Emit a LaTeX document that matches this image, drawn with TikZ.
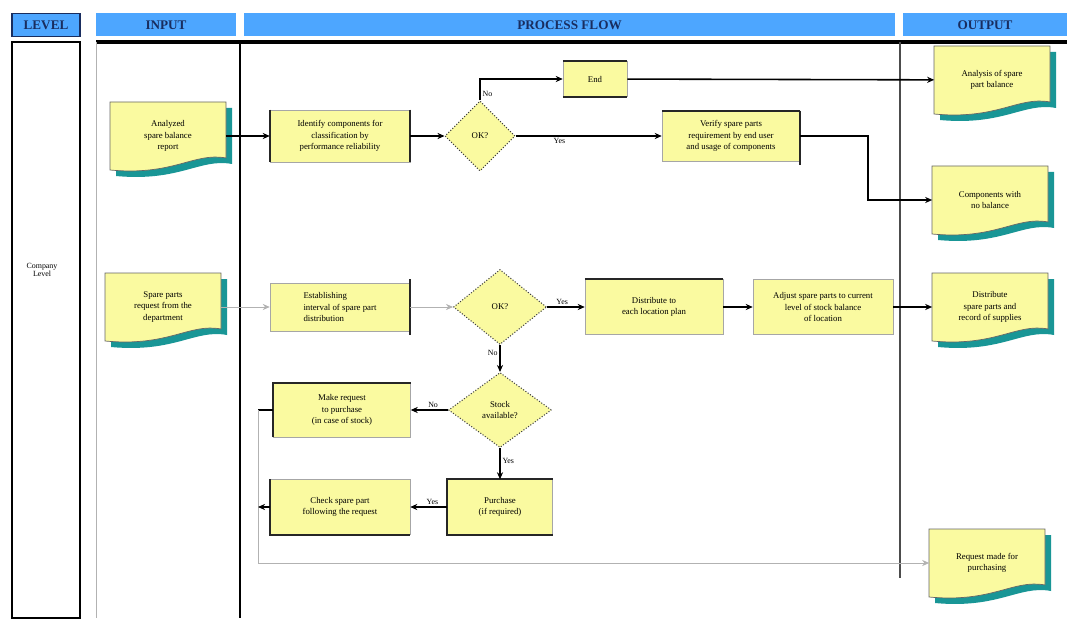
\documentclass[tikz,border=0pt]{standalone}
\usepackage{fontspec}
\setmainfont{Liberation Serif}
\usetikzlibrary{shapes.geometric,arrows.meta,positioning,calc}
\definecolor{headblue}{RGB}{77,166,255}
\definecolor{headnavy}{RGB}{25,45,95}
\definecolor{procyellow}{RGB}{250,250,160}
\definecolor{docshade}{RGB}{25,150,150}

\tikzset{
  proc/.style={rectangle, fill=procyellow, draw=black!35, line width=0.3pt, align=center,
    font=\fontsize{5}{6.5}\selectfont, inner sep=1pt},
  decide/.style={diamond, fill=procyellow, draw=black!75, densely dotted, line width=0.6pt,
    align=center, font=\fontsize{5}{6.5}\selectfont, inner sep=0pt},
  doctext/.style={align=center, font=\fontsize{5}{6.5}\selectfont, minimum width=2.3cm,
    minimum height=1.1cm, inner sep=0pt},
  head/.style={fill=headblue, text=headnavy, font=\fontsize{7.5}{8}\selectfont\bfseries,
    minimum height=0.46cm, inner sep=0pt},
  bar/.style={line width=1.1pt, black!85},
  flow/.style={-{Stealth[length=4pt,width=3.5pt]}, line width=0.9pt},
  faint/.style={line width=0.5pt, black!30},
  lbl/.style={font=\fontsize{4.5}{5}\selectfont, inner sep=1pt}
}

% document shape with shadow: name, centre, text
\newcommand{\flowdoc}[3]{%
  \begin{scope}[shift={(#2)}]
    \fill[docshade] (-52,-28) -- (64,-28) -- (64,28) .. controls (32,22) and (12,46) .. (-52,40) -- cycle;
    \filldraw[fill=procyellow, draw=black!60, line width=0.4pt]
      (-58,-34) -- (58,-34) -- (58,22) .. controls (26,16) and (6,40) .. (-58,34) -- cycle;
  \end{scope}
  \node[doctext] (#1) at (#2) {#3};}

\begin{document}
\begin{tikzpicture}[x=0.02cm, y=-0.02cm]
    \useasboundingbox (0,0) rectangle (1067,618);

    % Headers
    \node[head, minimum width=1.36cm, draw=headnavy, line width=1pt] (hlevel) at (46,25) {LEVEL};
    \node[head, minimum width=2.8cm] (hinput) at (166,25) {INPUT};
    \node[head, minimum width=13.02cm] (hflow) at (569.5,25) {PROCESS FLOW};
    \node[head, minimum width=3.28cm] (hout) at (985,25) {OUTPUT};

    % Columns
    \draw[line width=1.2pt] (12,42) rectangle (80,618);
    \draw[line width=1.8pt] (96,42) -- (1067,42);
    \draw[faint] (96,42) -- (96,618);
    \draw[line width=1pt] (240,42) -- (240,618);
    \draw[line width=1pt, black!70] (900,42) -- (900,578);
    \node[lbl, align=center] (lvl) at (42,270) {Company\\Level};

    % Inputs and outputs
    \flowdoc{in1}{168,136}{Analyzed\\spare balance\\report}
    \flowdoc{in2}{163,307}{Spare parts\\request from the\\department}
    \flowdoc{out1}{992,80}{Analysis of spare\\part balance}
    \flowdoc{out2}{990,200}{Components with\\no balance}
    \flowdoc{out3}{990,307}{Distribute\\spare parts and\\record of supplies}
    \flowdoc{out4}{987,563}{Request made for\\purchasing}

    % Upper flow
    \node[proc, minimum width=2.8cm, minimum height=1.04cm] (p1) at (340,136)
      {Identify components for\\classification by\\performance reliability};
    \node[decide, minimum width=1.4cm, minimum height=1.4cm] (d1) at (480,136) {OK?};
    \node[proc, minimum width=1.28cm, minimum height=0.7cm] (end) at (595,79) {End};
    \node[proc, minimum width=2.76cm, minimum height=1.0cm] (mid) at (731,136)
      {Verify spare parts\\requirement by end user\\and usage of components};

    % Lower flow
    \node[proc, minimum width=2.8cm, minimum height=0.96cm, align=left] (p2) at (340,307)
      {Establishing\\interval of spare part\\distribution};
    \node[decide, minimum width=1.86cm, minimum height=1.5cm] (d2) at (500,307) {OK?};
    \node[proc, minimum width=2.76cm, minimum height=1.1cm] (p3) at (654,307)
      {Distribute to\\each location plan};
    \node[proc, minimum width=2.8cm, minimum height=1.1cm] (p4) at (823,307)
      {Adjust spare parts to current\\level of stock balance\\of location};
    \node[decide, minimum width=2.06cm, minimum height=1.5cm] (d3) at (500,410) {Stock\\available?};
    \node[proc, minimum width=2.74cm, minimum height=1.08cm] (p5) at (342,410)
      {Make request\\to purchase\\(in case of stock)};
    \node[proc, minimum width=2.1cm, minimum height=1.1cm] (p6) at (500,507)
      {Purchase\\(if required)};
    \node[proc, minimum width=2.8cm, minimum height=1.1cm] (p7) at (340,507)
      {Check spare part\\following the request};

    % Thick box edges
    \draw[bar] (p1.north west) -- (p1.south west);
    \draw[bar] (p1.north east) -- (p1.south east);
    \draw[bar] (end.north west) -- (end.north east);
    \draw[bar] (end.south west) -- (end.south east);
    \draw[bar] (mid.north west) -- (mid.north east);
    \draw[bar] (mid.north east) -- ([yshift=-2pt]mid.south east);
    \draw[bar] ([yshift=2pt]p2.north east) -- ([yshift=-2pt]p2.south east);
    \draw[bar] (p3.north west) -- (p3.north east);
    \draw[bar] (p5.south west) -- (p5.north west) -- (p5.north east);
    \draw[bar] (p6.north east) -- (p6.north west) -- (p6.south west) -- (p6.south east);
    \draw[bar] (p7.north west) -- (p7.south west) -- (p7.south east);

    % Connectors
    \draw[flow] (in1) -- (p1);
    \draw[flow] (p1) -- (d1);
    \draw[flow] (d1.north) |- node[lbl, pos=0.15, right] {No} (end.west);
    \draw[flow] (end) -- (out1);
    \draw[flow] (d1) -- node[lbl, pos=0.3, below] {Yes} (mid);
    \draw[flow] (mid.east) -- ++(68,0) |- (out2.west);

    \draw[flow, faint] (in2) -- (p2);
    \draw[flow, faint] (p2) -- (d2);
    \draw[flow] (d2) -- node[lbl, pos=0.4, above] {Yes} (p3);
    \draw[flow] (p3) -- (p4);
    \draw[flow] (p4) -- (out3);
    \draw[flow] (d2) -- node[lbl, pos=0.3, left] {No} (d3);
    \draw[flow] (d3) -- node[lbl, pos=0.4, above] {No} (p5);
    \draw[flow] (d3) -- node[lbl, pos=0.4, right] {Yes} (p6);
    \draw[flow] (p6) -- node[lbl, pos=0.4, above] {Yes} (p7);

    \coordinate (bend) at (258,410);
    \draw[line width=0.9pt] (p5.west) -- (bend);
    \draw[faint, -{Stealth[length=4pt,width=3.5pt]}] (bend) |- (out4.west);
    \draw[flow] (p7.west) -- (p7.west -| bend);
\end{tikzpicture}
\end{document}
